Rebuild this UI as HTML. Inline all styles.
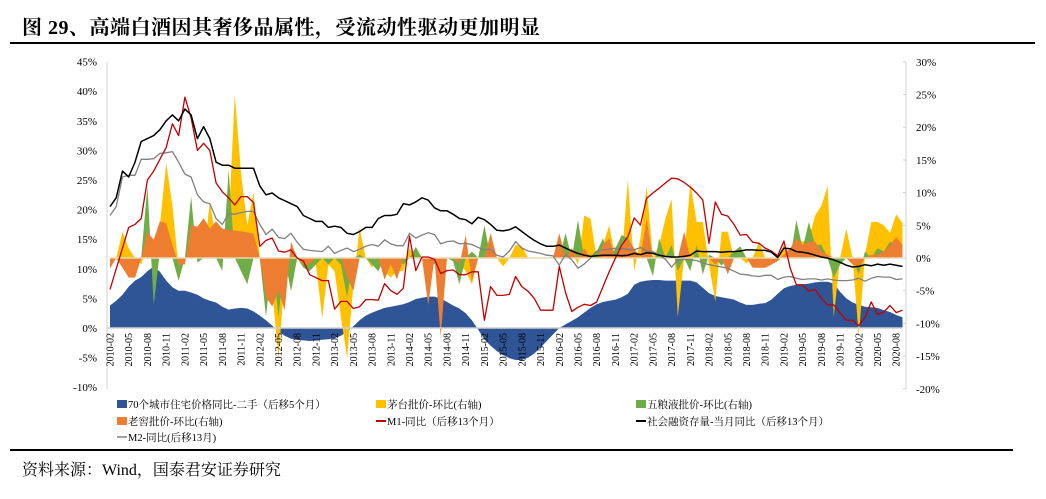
<!DOCTYPE html>
<html><head><meta charset="utf-8">
<style>
html,body{margin:0;padding:0;background:#fff;}
body{width:1046px;height:499px;overflow:hidden;position:relative;font-family:"Liberation Serif","Noto Serif CJK SC",serif;}
#title{position:absolute;left:22px;top:11px;font-size:20px;font-weight:bold;color:#000;font-family:"Liberation Serif","Noto Serif CJK SC",serif;white-space:nowrap;letter-spacing:0.5px;}
#tline{position:absolute;left:10px;top:42px;width:1025px;height:2px;background:#000;}
#bline{position:absolute;left:10px;top:449px;width:1003px;height:2px;background:#000;}
#source{position:absolute;left:22px;top:457px;font-size:16px;color:#000;white-space:nowrap;font-family:"Liberation Serif","Noto Serif CJK SC",serif;}
svg{position:absolute;left:0;top:0;}
</style></head>
<body>
<div id="title">图 29、高端白酒因其奢侈品属性，受流动性驱动更加明显</div>
<div id="tline"></div>
<svg id="chart" width="1046" height="499"></svg>
<div id="bline"></div>
<div id="source">资料来源：Wind，国泰君安证券研究</div>
<script>
// ---- data (2010-02 .. 2020-09) ----
const house = [3.8,4.6,5.6,7,8,8.6,9.6,10.4,9.5,8,6.9,
6.3,6.3,6,5.6,5,4.6,4.3,3.6,3.1,3.3,3.4,3.3,
2.8,2.1,1.3,0.4,-0.6,-1.3,-1.8,-2.0,-2.1,-2.2,-2.1,-2.0,
-1.9,-1.7,-1.3,-0.6,0.3,1.3,2.1,2.6,3.0,3.4,3.6,3.8,
4.0,4.4,4.9,5.1,5.3,5.3,5.0,4.4,3.8,3.3,2.5,1.3,
-0.3,-1.9,-3.0,-3.9,-4.6,-5.1,-5.4,-5.4,-5.0,-4.3,-3.3,-2.2,
-1.1,0.0,0.6,1.2,1.8,2.6,3.4,4.0,4.4,4.6,4.8,5.2,
5.8,7.3,7.8,8.0,8.1,8.1,8.0,8.0,8.0,8.0,8.0,7.7,
6.8,5.9,5.4,5.2,5.0,4.8,4.3,3.9,3.9,4.1,4.2,4.8,
5.8,6.7,7.1,7.3,7.4,7.5,7.7,7.8,7.8,7.5,6.1,5.0,
4.3,3.9,3.6,3.5,3.4,3.0,2.7,2.2,1.8];
const moutai = [0,0,4,1.5,0,-1,2,0,5,14.5,8,
-1.5,0,0,0,0,8.5,3,0,5,25,13,5,
10,0,-3,-5,-15.3,-3,0,0,0,-1,-1,-9.2,
-1,-2,-9,-15.3,-4,4.6,0,-1.5,0,-2,-3,-2,
-2,1.5,0,0,0,0,0,0,0,-1,-2,-4,
0,0,0,0,-1.3,0,2,1.8,0,0,0,0,
0,0,0,1,-1,6.5,6,0,2,5,0,0,
12,-2,3,11,0,2,6,9,-9,0,11.5,5.5,
5.5,-1,-6.7,4,4,0,0,-0.8,0,2.5,0,0,
0,2,0,3,2.5,3,6.5,8,11,-9,0,4.5,
0,-12,0.5,5.5,5.5,5,3.8,6.7,5.3];
const wuliangye = [0,0,0,-1,-3,0,11,-7.2,1,5,0,
-3.5,0,9.4,-0.7,0,0,0,-2,13.5,0,-2,-4,
0,0,-9,0,-9,0,-5.1,0,-1.5,-2,-1,0,
-1,0,-1,-6,0,0.5,0,-1,-2,0,-1,0,
-1,0,1.7,0,0,-1,0,0,-0.5,-4,0,1,
0,5,0,0,0,0,0,0,0,0,0,0,
0,0,3.8,0,5.8,0,0,1,3,0,1.5,3.5,
3,0,0,0,-2.8,3,0,2,-2,0,-2,2,
-2.5,0.5,0,-1.2,0,1,1.8,0,0,0,-1.5,-1,
0,0,0,5.8,1.5,5.5,2,2,0,-3,-1,0,
0,-2.5,1,0,1.5,1,2.5,2,1];
const laojiao = [-1.6,0,-1.5,-3,-3,0,4,2.8,5.6,5.3,2,
-1,-1,5.0,4.8,6.1,4.5,5.6,4.5,4.3,4.2,4.1,3.9,
3.7,0,-6,-7.4,-5,-8,2.5,0,-1,-1,0,0,
0,0,0,-3,-5,0,0,0,0,-3.3,-1,-3.3,
0,0,0,0,-7.2,0,-12,0,0,-1,3.5,-3.5,
0,0,3.8,0,0,0,0,0,0,0,0,0,
0,3.8,0,1.5,0,1.5,0,0,2,3,0,2,
3,1.5,0,6,0,0,0,0,0,4,0,0,
0,0,-1,0,-2.5,0,0,0,-1.5,-1.5,-1.5,-1,
-0.5,0.5,1.5,3,2,2.5,2.5,1,0.5,0,0,0,
-1,-1.5,0,0.5,0.5,1,2,3.2,2];
const m1 = [6.5,10,13.5,17,17.5,18.5,25,26.5,28.5,30.5,34.5,
32.5,39,35.5,30,31.2,30,24.5,23,22,20.8,22.2,22.2,
21.2,13.8,14.8,15.2,13,12.8,13.2,11.8,11.3,9,8.5,8,
8,3.2,4.5,4.5,3.3,3.6,4.8,4.8,4.7,7.5,6.3,5.7,
6.7,15.5,9.7,12,12,11.6,9.2,9.7,9.8,9,9,9.5,
9.5,1.3,7,5.5,5.5,5.7,8.7,7.0,6.2,5.0,3.0,3.0,
3.0,10.4,6.0,2.8,3.5,4.0,3.8,4.4,7.0,9.5,11.8,14.0,
15.4,18.6,17.4,21.9,22.8,23.6,24.5,25.3,25.2,24.6,23.8,22.8,
21.6,14.3,21.3,19.2,18.9,17.5,15.7,15.8,14.5,14.3,13.5,13.0,
12.2,14.7,10.1,7.3,7.3,6.2,6.5,5.0,3.9,3.9,2.5,1.3,
1.3,0.4,1.8,4.4,2.3,2.7,3.8,2.6,3.0];
const tsf = [20.5,22,26.5,25.5,28,31.5,32,32.5,33.5,35,36,
35,37,36,32,34,32,28,27.5,27.5,27,27,27,
27,24,22.5,22.8,22,21.5,21,20.5,19,18.5,18,18,
17,17.2,17,16,15.8,16.3,17,17,18.5,19,19,19.2,
21,20.8,21.3,22,21.6,20.3,19.8,19.8,19.2,18.5,18.3,17.6,
18.7,18.3,17.5,16.5,16.4,16.6,17.1,16.3,15.5,14.8,14.2,13.8,
13.8,14.0,13.5,13.0,12.6,12.3,12.1,12.2,12.3,12.3,12.3,12.2,
12.3,12.6,12.4,12.7,12.6,12.3,12.1,12.0,12.0,12.1,12.3,13.0,
12.9,12.9,12.9,12.8,12.9,12.9,13.0,13.2,13.2,13.1,13.1,12.8,
11.9,13.5,13.4,12.9,12.8,12.6,12.3,12.0,11.8,11.5,11.1,10.6,
10.3,10.4,10.7,10.5,10.8,10.6,10.8,10.6,10.4];
const m2 = [19,20.5,25.5,25.8,25.8,28.5,28.5,28.6,29.5,29.6,29.8,
28,26,25.5,22.5,21.3,21,18.5,17.5,19.3,19.2,19.5,19.7,
19.7,17.5,15.8,16.7,15.3,15.1,16,14.5,13.3,13.1,13,12.9,
13.8,12.6,13.1,13.5,12.9,13.3,13.8,14.1,13.8,14.9,14.2,13.9,
13.9,16,15.2,15.7,16.1,15.8,14.2,14.6,14.7,14.2,14.3,14.1,
13.6,13.2,13.3,12.3,12.0,13.0,14.6,13.5,13.0,12.8,12.6,12.3,
12.2,10.6,12.4,11.5,10.1,10.8,11.8,13.0,13.2,13.3,13.5,13.4,
13.3,13.2,13.6,13.0,12.9,12.3,11.6,10.3,11.5,11.6,11.5,11.4,
11.0,10.7,10.5,10.3,10.1,9.6,9.1,9.0,8.8,8.7,8.9,8.9,
8.2,8.6,8.7,8.4,8.2,8.3,8.3,8.1,8.3,8.1,8.0,8.0,
8.1,8.4,7.9,8.4,8.7,8.6,8.6,8.2,8.3];
const leftTicks = [45,40,35,30,25,20,15,10,5,0,-5,-10];
const rightTicks = [30,25,20,15,10,5,0,-5,-10,-15,-20];
const startYear = 2010, startMonth = 2, labelEvery = 3;

// ---- scales ----
const X0 = 110, DX = 6.24;
const xs = i => X0 + i * DX;
const yL = v => 328 - v * 5.92;
const yR = v => 258 - v * 6.54;
const NS = 'http://www.w3.org/2000/svg';
const svg = document.getElementById('chart');
function mk(tag, attrs, parent) {
  const e = document.createElementNS(NS, tag);
  for (const k in attrs) e.setAttribute(k, attrs[k]);
  (parent || svg).appendChild(e);
  return e;
}
const n = house.length;
const months = [];
for (let i = 0; i < n; i++) {
  const m = startMonth - 1 + i;
  const y = startYear + Math.floor(m / 12);
  const mm = (m % 12) + 1;
  months.push(y + '-' + (mm < 10 ? '0' + mm : mm));
}

// axes
const axL = mk('line', {x1:107, y1:62, x2:107, y2:389, stroke:'#d0d0d0', 'stroke-width':1});


const axR = mk('line', {x1:906, y1:62, x2:906, y2:389, stroke:'#d0d0d0', 'stroke-width':1});


leftTicks.forEach(v => {
  const t = mk('text', {x:97, y:yL(v) + 4, 'text-anchor':'end', 'font-size':11, fill:'#000', 'font-family':'Liberation Serif, serif'});
  t.textContent = v + '%';
  
  
});
rightTicks.forEach(v => {
  mk('line', {x1:903, y1:yR(v), x2:906, y2:yR(v), stroke:'#d0d0d0'});
  const t = mk('text', {x:916, y:yR(v) + 4, 'text-anchor':'start', 'font-size':11, fill:'#000', 'font-family':'Liberation Serif, serif'});
  t.textContent = v + '%';
  
  
});

function area(vals, yf, color, name) {
  let d = 'M' + xs(0) + ',' + yf(0);
  vals.forEach((v, i) => { d += ' L' + xs(i).toFixed(1) + ',' + yf(v).toFixed(1); });
  d += ' L' + xs(vals.length - 1).toFixed(1) + ',' + yf(0) + ' Z';
  const p = mk('path', {d:d, fill:color, stroke:'none'});
  
  
}
function line(vals, yf, color, w, name) {
  const pts = vals.map((v, i) => xs(i).toFixed(1) + ',' + yf(v).toFixed(1)).join(' ');
  const p = mk('polyline', {points:pts, fill:'none', stroke:color, 'stroke-width':w, 'stroke-linejoin':'round'});
  
  
}
area(house, yL, '#2F5597', 'house-price-area');
area(moutai, yR, '#FFC000', 'moutai-area');
area(wuliangye, yR, '#70AD47', 'wuliangye-area');
area(laojiao, yR, '#ED7D31', 'laojiao-area');
const z = mk('line', {x1:X0, y1:yR(0), x2:xs(n - 1), y2:yR(0), stroke:'#e8d8b0', 'stroke-width':1.5});


const xa = mk('line', {x1:107, y1:yL(0), x2:xs(n - 1), y2:yL(0), stroke:'#d0d0d0', 'stroke-width':1.5});


line(m2, yL, '#808080', 1.3, 'm2-line');
line(m1, yL, '#C00000', 1.3, 'm1-line');
line(tsf, yL, '#000000', 1.5, 'tsf-line');

months.forEach((m, i) => {
  if (i % labelEvery !== 0) return;
  const x = xs(i), y = 333;
  const t = mk('text', {x:x, y:y, transform:'rotate(-90 ' + x + ' ' + y + ')', 'text-anchor':'end', 'font-size':10, fill:'#000', 'font-family':'Liberation Serif, serif', dy:'3.5'});
  t.textContent = m;
  
  
});

// legend
const legendNames = ['70个城市住宅价格同比-二手（后移5个月）','茅台批价-环比(右轴)','五粮液批价-环比(右轴)','老窖批价-环比(右轴)','M1-同比（后移13个月）','社会融资存量-当月同比（后移13个月）','M2-同比(后移13月)'];
const legendColors = ['#2F5597','#FFC000','#70AD47','#ED7D31','#C00000','#000000','#A0A0A0'];
const legendKinds = ['box','box','box','box','line','line','line'];
const colX = [117, 376, 636], rowY = [404, 421, 437];
legendNames.forEach((nm, k) => {
  const cx = colX[k % 3], cy = rowY[Math.floor(k / 3)];
  const g = mk('g', {});
  
  
  if (legendKinds[k] === 'box') mk('rect', {x:cx, y:cy - 4, width:10, height:8, fill:legendColors[k]}, g);
  else mk('line', {x1:cx, y1:cy, x2:cx + 10, y2:cy, stroke:legendColors[k], 'stroke-width':2}, g);
  const t = mk('text', {x:cx + 11, y:cy + 4, 'font-size':10.5, fill:'#000', 'font-family':'Liberation Serif, Noto Serif CJK SC, serif'}, g);
  t.textContent = nm;
});
</script>
</body></html>
